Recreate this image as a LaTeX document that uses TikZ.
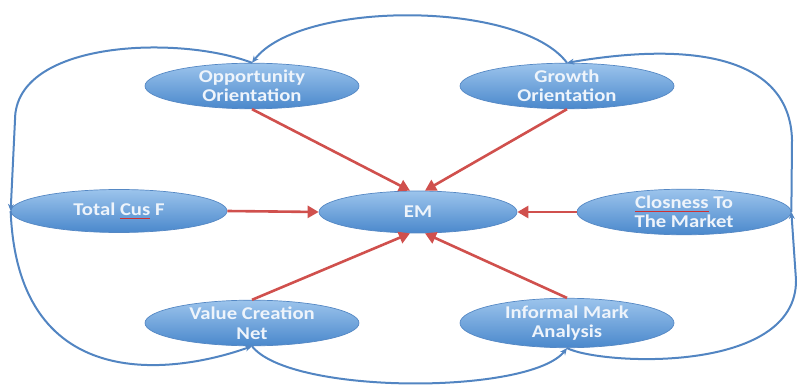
\documentclass[tikz,border=0pt]{standalone}
\usepackage{fontspec}
\setmainfont{Carlito}[FakeStretch=1.15]
\usetikzlibrary{shapes.geometric,arrows.meta,calc}
\definecolor{elltop}{HTML}{9CC4EC}
\definecolor{ellbot}{HTML}{4A88CC}
\definecolor{elledge}{HTML}{5588C4}
\definecolor{loopblue}{HTML}{5285C2}
\definecolor{arrred}{HTML}{D0504D}
\definecolor{txtw}{HTML}{EEF4FB}
\definecolor{spellred}{HTML}{D03030}
\newsavebox\spellbox
\newcommand\spellwave[1]{\sbox\spellbox{#1}\rlap{\usebox\spellbox}\raisebox{-3.5pt}{\textcolor{spellred}{\rule{\wd\spellbox}{0.8pt}}}}
\tikzset{
  bubble/.style={ellipse, inner sep=0pt, minimum width=214pt, minimum height=43pt,
    top color=elltop, bottom color=ellbot, draw=elledge, line width=0.7pt,
    text=txtw, align=center, font=\fontsize{18}{19.5}\selectfont\bfseries},
  loopline/.style={draw=loopblue, line width=2pt, -{Stealth[length=7pt,width=6pt]}},
  redarrow/.style={draw=arrred, line width=2.6pt, -{Triangle[length=11pt,width=12pt]}}
}
\begin{document}
\begin{tikzpicture}[x=1pt,y=-1pt]
\useasboundingbox (0,0) rectangle (797,387);
\node[bubble] (opp) at (252,86) {Opportunity\\Orientation};
\node[bubble] (gro) at (567,86) {Growth\\Orientation};
\node[bubble, minimum width=216pt] (tot) at (119,211) {Total \spellwave{Cus} F};
\node[bubble, minimum width=198pt, minimum height=42pt] (em) at (418,212) {EM};
\node[bubble] (clo) at (684,212) {\spellwave{Closness} To\\The Market};
\node[bubble] (val) at (252,323) {Value Creation\\Net};
\node[bubble] (inf) at (567,323) {Informal Mark\\Analysis};
% red arrows into EM
\draw[redarrow] (opp.south) -- ($(em.north)+(-8,0)$);
\draw[redarrow] (gro.south) -- ($(em.north)+(7,0)$);
\draw[redarrow] (tot.east) -- (em.west);
\draw[redarrow] (clo.west) -- (em.east);
\draw[redarrow] (val.north) -- ($(em.south)+(-8,0)$);
\draw[redarrow] (inf.north) -- ($(em.south)+(7,0)$);
% blue loop
\coordinate (lt) at (15,120);
\coordinate (rb) at (796,280);
\coordinate (rt) at (792,140);
\draw[loopline] (gro.north) .. controls (520,0) and (300,0) .. (opp.north);
\draw[loopline] (opp.north) .. controls (180,35) and (15,40) .. (lt) -- (tot.west);
\draw[loopline] (tot.west) .. controls (18,400) and (180,372) .. (val.south);
\draw[loopline] (val.south) .. controls (290,395) and (530,395) .. (inf.south);
\draw[loopline] (inf.south) .. controls (600,365) and (797,375) .. (rb) -- (clo.east);
\draw[loopline] (clo.east) -- (rt) .. controls (790,60) and (700,40) .. (gro.north);
\end{tikzpicture}
\end{document}
